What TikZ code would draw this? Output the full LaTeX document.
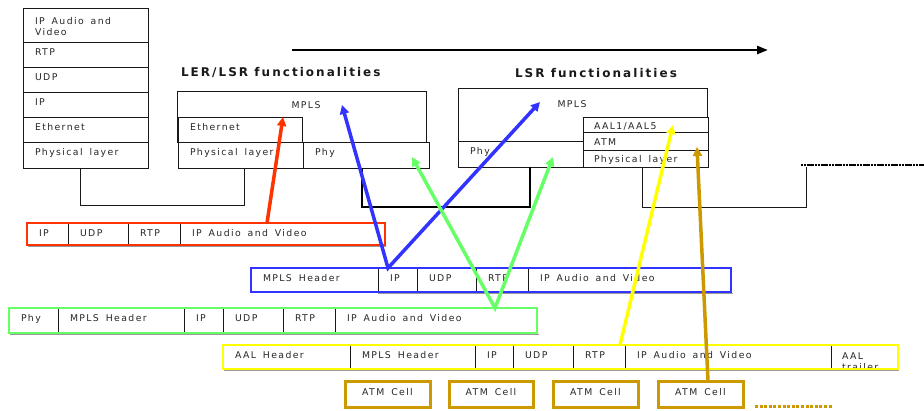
\documentclass[tikz,border=0pt]{standalone}
\usepackage{fontspec}
\setmainfont{DejaVu Sans}
\newfontfamily\lblfont[LetterSpace=15,WordSpace=1.6]{DejaVu Sans}
\newfontfamily\ttlfont[LetterSpace=17]{DejaVu Sans}
\usetikzlibrary{arrows.meta,calc}

\definecolor{pktred}{HTML}{FF3300}
\definecolor{pktblue}{HTML}{3333FF}
\definecolor{pktgreen}{HTML}{66FF66}
\definecolor{pktyellow}{HTML}{FFFF00}
\definecolor{atmgold}{HTML}{CC9900}

\tikzset{
  every node/.style={inner sep=0pt, outer sep=0pt},
  box/.style={draw=black!90, line width=0.9pt, fill=white, rectangle, anchor=north west},
  lbl/.style={font=\lblfont\fontsize{9.3}{11}\selectfont, text=black!85, anchor=base west, align=left},
  ctr/.style={font=\lblfont\fontsize{9.3}{11}\selectfont, text=black!85, anchor=base},
  ttl/.style={font=\ttlfont\bfseries\fontsize{12}{14}\selectfont, text=black!90, anchor=base west},
  wire/.style={line width=1pt, black!90},
  thickwire/.style={line width=2.4pt, black},
  outline/.style={line width=2.5pt},
  shade line/.style={line width=1.2pt, black!40},
  flow/.style={line width=3.5pt, line join=miter},
  tip/.style={-{Triangle[length=9pt,width=9pt]}},
  twotip/.style={{Triangle[length=9pt,width=9pt]}-{Triangle[length=9pt,width=9pt]}},
}

% a labelled cell: name, x1, y1, x2, y2, text
\newcommand\labcell[6]{%
  \node[box, minimum width={(#4-#2)*1pt}, minimum height={(#5-#3)*1pt}] (#1) at (#2,#3) {};
  \node[lbl] (#1-txt) at ({#2+12},{#3+13}) {#6};
}
% an ATM cell: name, x1, x2
\newcommand\atmcell[3]{%
  \node[box, draw=atmgold, line width=3pt, minimum width={(#3-#2)*1pt}, minimum height=26pt] (#1) at (#2,381) {};
  \node[ctr] (#1-txt) at ({(#2+#3)/2},395) {ATM Cell};
}

\begin{document}
\begin{tikzpicture}[x=1pt, y=-1pt]
  \useasboundingbox (0,0) rectangle (924,410);

  % ---------- end host stack ----------
  \node[box, minimum width=125pt, minimum height=34pt] (hostapp) at (23,8) {};
  \node[lbl] (hostapp-txt) at (35,35) {IP Audio and\\Video};
  \labcell{hostrtp}{23}{42}{148}{67}{RTP}
  \labcell{hostudp}{23}{67}{148}{92}{UDP}
  \labcell{hostip}{23}{92}{148}{117}{IP}
  \labcell{hosteth}{23}{117}{148}{142}{Ethernet}
  \labcell{hostphys}{23}{142}{148}{168}{Physical layer}

  % ---------- LER/LSR node ----------
  \node[ttl] (lertitle) at (181,76) {LER/LSR functionalities};
  \node[box, minimum width=249pt, minimum height=51pt] (lermpls) at (177,91) {};
  \node[ctr] (lermpls-txt) at (306,108) {MPLS};
  \labcell{lereth}{178}{117}{302}{142}{Ethernet}
  \labcell{lerphys}{178}{142}{303}{168}{Physical layer}
  \labcell{lerphy}{303}{142}{429}{168}{Phy}

  % ---------- LSR node ----------
  \node[ttl] (lsrtitle) at (515,77) {LSR functionalities};
  \node[box, minimum width=249pt, minimum height=53pt] (lsrmpls) at (458,88) {};
  \node[ctr] (lsrmpls-txt) at (572,107) {MPLS};
  \labcell{lsrphy}{458}{141}{583}{167}{Phy}
  \node[box, minimum width=125pt, minimum height=15pt] (lsraal) at (583,117) {};
  \node[lbl] (lsraal-txt) at (594,129) {AAL1/AAL5};
  \node[box, minimum width=125pt, minimum height=18pt] (lsratm) at (583,132) {};
  \node[lbl] (lsratm-txt) at (594,145) {ATM};
  \node[box, minimum width=125pt, minimum height=17pt] (lsrphys) at (583,150) {};
  \node[lbl] (lsrphys-txt) at (594,162) {Physical layer};

  % ---------- direction of transfer ----------
  \coordinate (dirstart) at (292,50);
  \coordinate (dirend) at (768,50);
  \draw[line width=2.5pt, -{Triangle[length=11pt,width=8pt]}] (dirstart) -- (dirend);

  % ---------- physical links ----------
  \draw[wire] ([xshift=57pt]hostphys.south west) -- ++(0,37) -| ([xshift=66pt]lerphys.south west);
  \draw[thickwire] ([xshift=59pt]lerphy.south west) -- ++(0,39) -| ([xshift=72pt]lsrphy.south west);
  \coordinate (linkend) at (806,167);
  \draw[wire] ([xshift=59pt]lsrphys.south west) -- ++(0,40) -| (linkend);
  \coordinate (nextstart) at (801,165);
  \coordinate (nextend) at (924,165);
  \draw[line width=2pt, dash pattern=on 2.2pt off 0.6pt] (nextstart) -- (nextend);

  % ---------- IP packet over Ethernet ----------
  \draw[shade line] (28,246.5) -- (386,246.5);
  \labcell{rip}{27}{223}{68}{245}{IP}
  \labcell{rudp}{68}{223}{128}{245}{UDP}
  \labcell{rrtp}{128}{223}{180}{245}{RTP}
  \labcell{raudio}{180}{223}{385}{245}{IP Audio and Video}
  \draw[outline, pktred] (rip.north west) rectangle (raudio.south east);

  % ---------- labelled packet ----------
  \draw[shade line] (378,293.5) -- (733,293.5);
  \labcell{bmpls}{251}{268}{378}{292}{MPLS Header}
  \labcell{bip}{378}{268}{417}{292}{IP}
  \labcell{budp}{417}{268}{476}{292}{UDP}
  \labcell{brtp}{476}{268}{528}{292}{RTP}
  \labcell{baudio}{528}{268}{731}{292}{IP Audio and Video}
  \draw[outline, pktblue] (bmpls.north west) rectangle (baudio.south east);

  % ---------- labelled packet on the PHY ----------
  \draw[shade line] (10,334.5) -- (539,334.5);
  \labcell{gphy}{9}{308}{58}{333}{Phy}
  \labcell{gmpls}{58}{308}{184}{333}{MPLS Header}
  \labcell{gip}{184}{308}{223}{333}{IP}
  \labcell{gudp}{223}{308}{283}{333}{UDP}
  \labcell{grtp}{283}{308}{335}{333}{RTP}
  \labcell{gaudio}{335}{308}{537}{333}{IP Audio and Video}
  \draw[outline, pktgreen] (gphy.north west) rectangle (gaudio.south east);

  % ---------- AAL frame ----------
  \draw[shade line] (224,370.5) -- (899,370.5);
  \labcell{yaal}{223}{345}{350}{369}{AAL Header}
  \labcell{ympls}{350}{345}{475}{369}{MPLS Header}
  \labcell{yip}{475}{345}{513}{369}{IP}
  \labcell{yudp}{513}{345}{573}{369}{UDP}
  \labcell{yrtp}{573}{345}{625}{369}{RTP}
  \labcell{yaudio}{625}{345}{831}{369}{IP Audio and Video}
  \node[box, minimum width=67pt, minimum height=24pt] (ytrail) at (831,345) {};
  \begin{scope}
    \clip (ytrail.north west) rectangle (ytrail.south east);
    \node[lbl] (ytrail-txt) at (842,370) {AAL\\trailer};
  \end{scope}
  \draw[outline, pktyellow] (yaal.north west) rectangle (ytrail.south east);

  % ---------- ATM cells ----------
  \atmcell{atm1}{345}{430}
  \atmcell{atm2}{449}{533}
  \atmcell{atm3}{553}{638}
  \atmcell{atm4}{658}{743}
  \coordinate (morestart) at (755,406);
  \coordinate (moreend) at (833,406);
  \draw[atmgold, line width=3pt, dash pattern=on 3pt off 1.6pt] (morestart) -- (moreend);

  % ---------- layer mappings ----------
  \draw[flow, tip, pktred] ([xshift=87pt]raudio.north west) -- ([xshift=105pt]lereth.north west);
  \draw[flow, twotip, pktblue] ([xshift=165pt, yshift=-14pt]lermpls.north west)
      -- ([xshift=10pt]bip.north west)
      -- ([xshift=82pt, yshift=-14pt]lsrmpls.north west);
  \draw[flow, twotip, pktgreen] ([xshift=109pt, yshift=-15pt]lerphy.north west)
      -- ([xshift=160pt]gaudio.north west)
      -- ([xshift=95pt, yshift=-16pt]lsrphy.north west);
  \draw[flow, tip, pktyellow] ([xshift=-5pt]yaudio.north west) -- ([xshift=90pt, yshift=-8pt]lsraal.north west);
  \draw[flow, tip, atmgold] ([xshift=50pt]atm4.north west) -- ([xshift=114pt, yshift=-15pt]lsratm.north west);
\end{tikzpicture}
\end{document}
